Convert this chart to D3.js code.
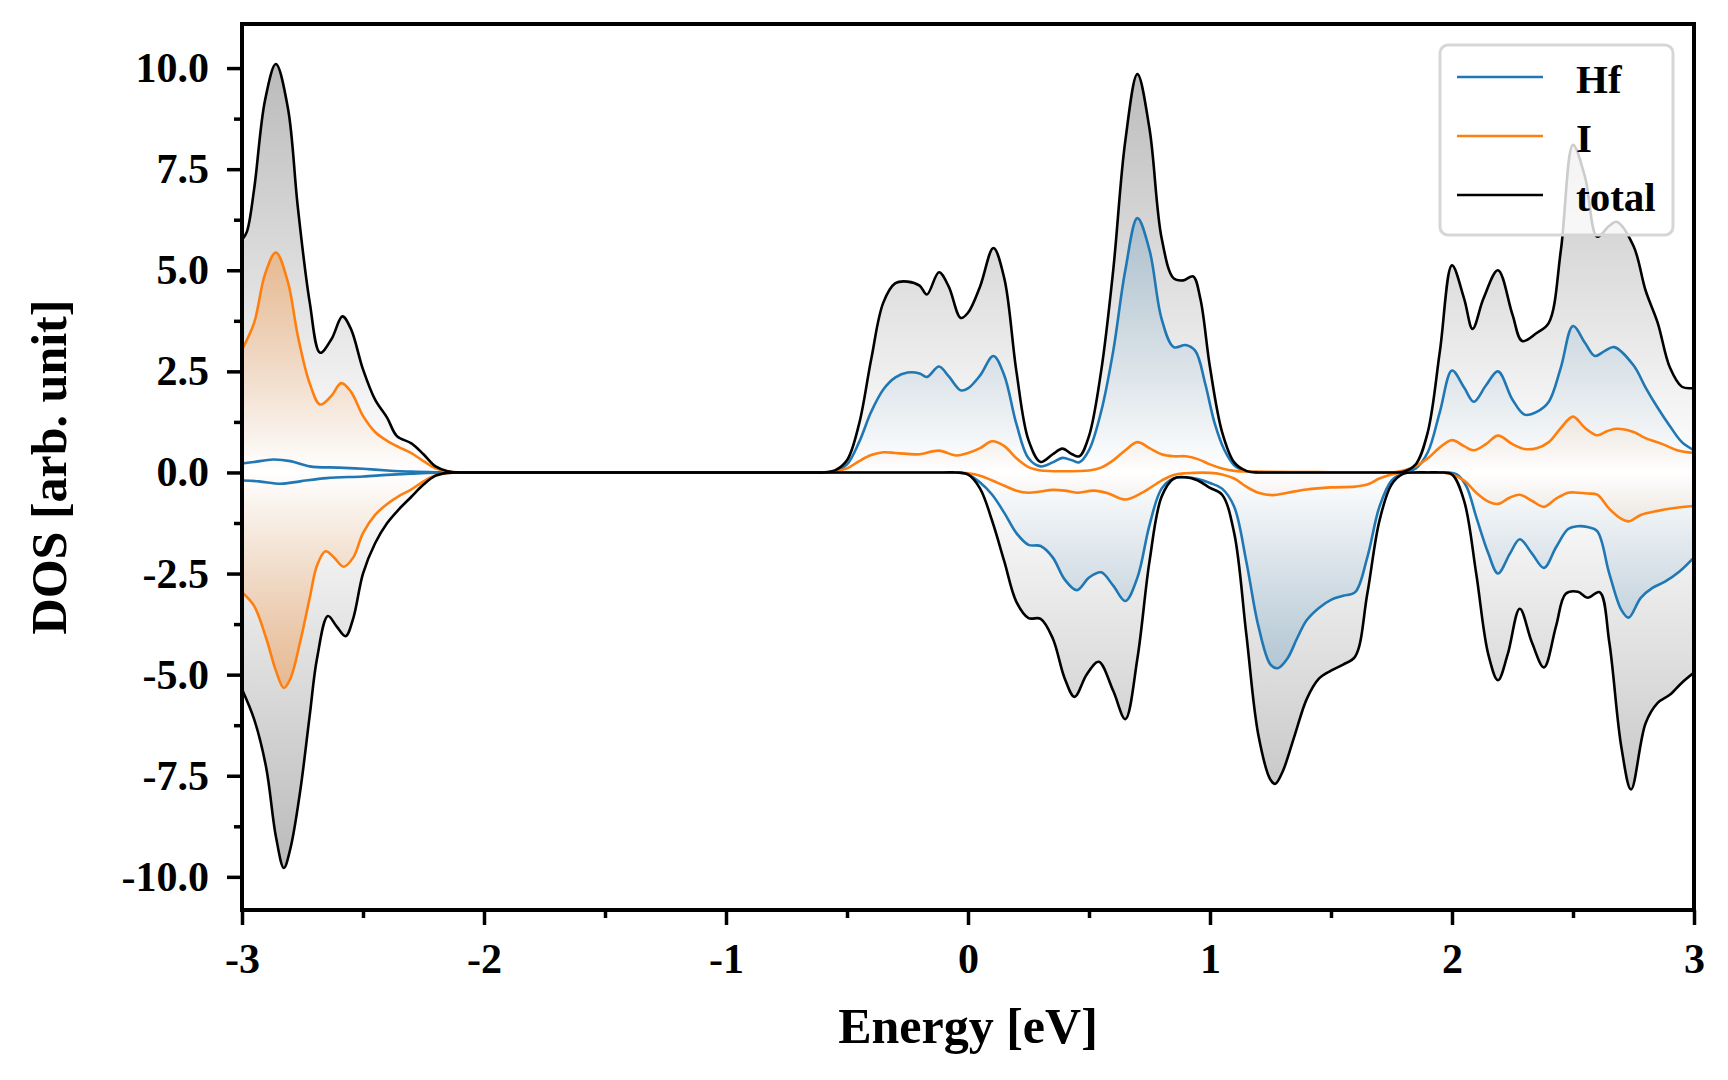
<!DOCTYPE html>
<html>
<head>
<meta charset="utf-8">
<script src="https://cdn.jsdelivr.net/npm/d3@7"></script>
<style>
  body { margin: 0; background: #fff; }
  text { font-family: "Liberation Serif", "Times New Roman", serif; font-weight: bold; }
</style>
</head>
<body>
<svg id="chart" width="1728" height="1080"></svg>
<script>
// energy [eV], DOS (up = spin up, down = spin down)
var totalUp = [[-3.0,5.75],[-2.98,5.95],[-2.95,7.0],[-2.905,9.2],[-2.86,10.1],[-2.81,9.0],[-2.77,6.6],[-2.72,4.2],[-2.677,2.96],[-2.63,3.3],[-2.585,3.86],[-2.55,3.55],[-2.5,2.55],[-2.45,1.8],[-2.4,1.35],[-2.36,0.9],[-2.3,0.72],[-2.25,0.45],[-2.2,0.15],[-2.15,0.03],[-2.1,0],[-2.05,0],
  [-0.65,0],[-0.6,0],[-0.55,0.05],[-0.5,0.3],[-0.45,1.2],[-0.4,2.8],[-0.35,4.2],[-0.3,4.68],[-0.25,4.72],[-0.2,4.62],[-0.17,4.4],[-0.12,4.95],[-0.08,4.6],[-0.03,3.82],[0.0,3.95],[0.05,4.6],[0.105,5.55],[0.15,4.8],[0.2,2.5],[0.25,0.8],[0.3,0.26],[0.35,0.45],[0.39,0.59],[0.43,0.45],[0.46,0.4],[0.5,0.9],[0.55,2.5],[0.6,5.0],[0.65,8.2],[0.7,9.85],[0.75,8.5],[0.8,5.8],[0.85,4.8],[0.89,4.75],[0.93,4.85],[0.96,4.3],[1.0,2.6],[1.05,1.0],[1.1,0.25],[1.15,0.04],[1.2,0],[1.25,0],
  [1.7,0],[1.75,0],[1.8,0.02],[1.85,0.2],[1.9,1.0],[1.95,3.0],[2.0,5.12],[2.05,4.3],[2.085,3.55],[2.13,4.3],[2.19,5.0],[2.25,3.9],[2.29,3.25],[2.35,3.45],[2.4,3.7],[2.45,5.5],[2.5,8.1],[2.55,7.3],[2.6,5.83],[2.65,6.1],[2.68,6.2],[2.75,5.6],[2.8,4.5],[2.85,3.7],[2.9,2.6],[2.95,2.12],[3.0,2.09]];
var totalDown = [[-3.0,-5.36],[-2.95,-6.1],[-2.9,-7.3],[-2.86,-9.0],[-2.827,-9.78],[-2.8,-9.3],[-2.76,-7.9],[-2.72,-6.0],[-2.69,-4.6],[-2.645,-3.55],[-2.61,-3.8],[-2.572,-4.05],[-2.54,-3.6],[-2.5,-2.5],[-2.45,-1.75],[-2.4,-1.25],[-2.35,-0.9],[-2.3,-0.6],[-2.25,-0.3],[-2.2,-0.08],[-2.15,-0.01],[-2.1,0],[-2.05,0],
  [-0.1,0],[-0.05,0],[0.0,-0.05],[0.05,-0.4],[0.1,-1.2],[0.15,-2.2],[0.2,-3.2],[0.25,-3.6],[0.3,-3.62],[0.35,-4.1],[0.4,-5.1],[0.44,-5.55],[0.49,-5.0],[0.54,-4.68],[0.6,-5.4],[0.65,-6.1],[0.7,-4.6],[0.75,-2.2],[0.8,-0.6],[0.85,-0.15],[0.9,-0.12],[0.95,-0.2],[1.0,-0.38],[1.05,-0.55],[1.1,-1.5],[1.15,-4.0],[1.2,-6.5],[1.25,-7.6],[1.27,-7.7],[1.3,-7.4],[1.35,-6.5],[1.4,-5.6],[1.45,-5.1],[1.5,-4.9],[1.55,-4.75],[1.6,-4.55],[1.65,-3.0],[1.7,-1.2],[1.75,-0.3],[1.8,-0.03],[1.85,0],
  [1.9,0],[1.95,0],[2.0,-0.05],[2.05,-0.7],[2.1,-2.5],[2.15,-4.5],[2.19,-5.14],[2.23,-4.5],[2.28,-3.37],[2.33,-4.2],[2.38,-4.82],[2.43,-3.8],[2.47,-3.0],[2.52,-2.95],[2.56,-3.1],[2.61,-2.96],[2.65,-4.2],[2.7,-6.8],[2.74,-7.84],[2.8,-6.2],[2.85,-5.7],[2.9,-5.5],[2.95,-5.2],[3.0,-4.95]];

var hfUp = [[-3.0,0.22],[-2.95,0.26],[-2.87,0.32],[-2.8,0.28],[-2.72,0.15],[-2.6,0.12],[-2.5,0.09],[-2.4,0.05],[-2.3,0.02],[-2.2,0.005],[-2.1,0],[-2.05,0],
  [-0.65,0],[-0.6,0],[-0.55,0.03],[-0.5,0.2],[-0.45,0.75],[-0.4,1.5],[-0.35,2.05],[-0.3,2.35],[-0.25,2.47],[-0.2,2.45],[-0.17,2.36],[-0.12,2.62],[-0.08,2.38],[-0.03,2.03],[0.0,2.08],[0.05,2.4],[0.105,2.88],[0.15,2.4],[0.2,1.2],[0.25,0.35],[0.3,0.15],[0.35,0.25],[0.39,0.36],[0.43,0.3],[0.46,0.25],[0.5,0.55],[0.55,1.5],[0.6,3.0],[0.65,5.0],[0.7,6.29],[0.75,5.5],[0.8,3.8],[0.85,3.1],[0.9,3.15],[0.94,3.0],[0.98,2.2],[1.02,1.2],[1.06,0.55],[1.1,0.18],[1.15,0.03],[1.2,0],[1.25,0],
  [1.75,0],[1.8,0],[1.85,0.1],[1.9,0.5],[1.95,1.5],[2.0,2.52],[2.05,2.1],[2.09,1.75],[2.14,2.15],[2.19,2.5],[2.25,1.8],[2.3,1.43],[2.35,1.5],[2.4,1.75],[2.45,2.6],[2.5,3.62],[2.55,3.2],[2.59,2.88],[2.63,3.0],[2.67,3.1],[2.75,2.65],[2.8,2.1],[2.85,1.6],[2.9,1.15],[2.95,0.75],[3.0,0.55]];
var hfDown = [[-3.0,-0.2],[-2.93,-0.22],[-2.84,-0.28],[-2.76,-0.22],[-2.65,-0.14],[-2.5,-0.1],[-2.4,-0.06],[-2.3,-0.03],[-2.2,-0.005],[-2.1,0],[-2.05,0],
  [-0.1,0],[-0.05,0],[0.0,-0.05],[0.05,-0.25],[0.1,-0.55],[0.15,-1.0],[0.2,-1.5],[0.25,-1.79],[0.3,-1.82],[0.35,-2.1],[0.4,-2.65],[0.45,-2.91],[0.5,-2.6],[0.55,-2.47],[0.6,-2.8],[0.65,-3.18],[0.7,-2.6],[0.75,-1.3],[0.8,-0.4],[0.85,-0.15],[0.9,-0.12],[0.95,-0.16],[1.0,-0.26],[1.05,-0.4],[1.1,-0.85],[1.15,-2.2],[1.2,-3.8],[1.25,-4.75],[1.28,-4.84],[1.32,-4.6],[1.36,-4.1],[1.4,-3.65],[1.45,-3.35],[1.5,-3.15],[1.55,-3.05],[1.6,-2.96],[1.65,-2.1],[1.7,-0.85],[1.75,-0.2],[1.8,-0.02],[1.85,0],
  [1.9,0],[1.94,0],[1.98,0],[2.02,-0.05],[2.06,-0.35],[2.1,-1.1],[2.15,-2.0],[2.19,-2.5],[2.24,-2.0],[2.28,-1.65],[2.33,-2.0],[2.38,-2.36],[2.43,-1.85],[2.48,-1.4],[2.52,-1.33],[2.56,-1.35],[2.6,-1.45],[2.65,-2.5],[2.7,-3.4],[2.73,-3.59],[2.78,-3.1],[2.83,-2.85],[2.88,-2.7],[2.94,-2.45],[3.0,-2.1]];

var iUp = [[-3.0,3.04],[-2.95,3.7],[-2.905,4.9],[-2.86,5.44],[-2.81,4.7],[-2.77,3.4],[-2.72,2.2],[-2.677,1.68],[-2.63,1.9],[-2.59,2.21],[-2.55,2.0],[-2.5,1.4],[-2.45,1.0],[-2.4,0.78],[-2.35,0.62],[-2.3,0.48],[-2.25,0.28],[-2.2,0.1],[-2.15,0.02],[-2.1,0],[-2.05,0],
  [-0.65,0],[-0.6,0],[-0.55,0.02],[-0.5,0.1],[-0.45,0.28],[-0.4,0.43],[-0.35,0.5],[-0.3,0.48],[-0.25,0.46],[-0.2,0.45],[-0.12,0.54],[-0.05,0.42],[0.0,0.48],[0.05,0.6],[0.1,0.77],[0.15,0.65],[0.2,0.35],[0.25,0.13],[0.3,0.05],[0.4,0.03],[0.5,0.05],[0.55,0.12],[0.6,0.3],[0.65,0.55],[0.7,0.75],[0.75,0.6],[0.8,0.45],[0.85,0.4],[0.9,0.4],[0.95,0.33],[1.0,0.2],[1.05,0.1],[1.1,0.04],[1.2,0.02],[1.4,0.01],[1.5,0.005],
  [1.7,0],[1.75,0],[1.8,0.05],[1.85,0.15],[1.9,0.35],[1.95,0.62],[2.0,0.8],[2.05,0.65],[2.09,0.55],[2.14,0.7],[2.19,0.91],[2.25,0.7],[2.3,0.58],[2.35,0.6],[2.4,0.75],[2.45,1.1],[2.5,1.38],[2.55,1.1],[2.6,0.92],[2.64,1.02],[2.68,1.08],[2.75,1.0],[2.8,0.85],[2.87,0.7],[2.93,0.55],[3.0,0.48]];
var iDown = [[-3.0,-2.96],[-2.95,-3.3],[-2.9,-4.1],[-2.86,-4.9],[-2.827,-5.33],[-2.8,-5.1],[-2.76,-4.2],[-2.72,-3.1],[-2.69,-2.3],[-2.655,-1.95],[-2.62,-2.1],[-2.58,-2.33],[-2.54,-2.1],[-2.5,-1.5],[-2.45,-1.05],[-2.4,-0.78],[-2.35,-0.58],[-2.3,-0.42],[-2.25,-0.22],[-2.2,-0.07],[-2.15,-0.01],[-2.1,0],[-2.05,0],
  [-0.1,0],[-0.05,0],[0.0,-0.02],[0.05,-0.08],[0.1,-0.2],[0.15,-0.33],[0.2,-0.45],[0.25,-0.5],[0.3,-0.47],[0.35,-0.43],[0.4,-0.45],[0.45,-0.5],[0.52,-0.45],[0.58,-0.52],[0.65,-0.67],[0.72,-0.5],[0.8,-0.2],[0.85,-0.06],[0.9,-0.02],[1.0,-0.01],[1.05,-0.05],[1.1,-0.15],[1.15,-0.35],[1.2,-0.5],[1.26,-0.56],[1.32,-0.5],[1.4,-0.42],[1.5,-0.37],[1.6,-0.35],[1.65,-0.3],[1.7,-0.15],[1.75,-0.05],[1.8,0],
  [1.85,0],[1.9,0],[1.95,0],[2.0,-0.05],[2.05,-0.2],[2.1,-0.5],[2.15,-0.72],[2.19,-0.78],[2.24,-0.62],[2.28,-0.55],[2.33,-0.7],[2.38,-0.85],[2.43,-0.65],[2.48,-0.5],[2.52,-0.5],[2.56,-0.52],[2.6,-0.55],[2.65,-0.9],[2.7,-1.15],[2.73,-1.21],[2.78,-1.05],[2.85,-0.95],[2.92,-0.88],[3.0,-0.83]];

var seriesNames = ["Hf", "I", "total"];
var seriesColors = ["#1f77b4", "#ff7f0e", "#000000"];
var xTicks = [-3, -2, -1, 0, 1, 2, 3];
var xMinor = [-2.5, -1.5, -0.5, 0.5, 1.5, 2.5];
var yTicks = [-10, -7.5, -5, -2.5, 0, 2.5, 5, 7.5, 10];
var yMinor = [-8.75, -6.25, -3.75, -1.25, 1.25, 3.75, 6.25, 8.75];

var plotLeft = 242, plotRight = 1694, plotTop = 24, plotBottom = 910;

var x = d3.scaleLinear().domain([-3, 3]).range([plotLeft, plotRight]);
var y = d3.scaleLinear().domain([-10.82, 11.09]).range([plotBottom, plotTop]);

var svg = d3.select("#chart");
var defs = svg.append("defs");
defs.append("clipPath").attr("id", "plotclip")
  .append("rect").attr("x", plotLeft).attr("y", plotTop)
  .attr("width", plotRight - plotLeft).attr("height", plotBottom - plotTop);

var series = [
  { name: seriesNames[0], color: seriesColors[0], up: hfUp, down: hfDown, alpha: 0.22 },
  { name: seriesNames[1], color: seriesColors[1], up: iUp, down: iDown, alpha: 0.36 },
  { name: seriesNames[2], color: seriesColors[2], up: totalUp, down: totalDown, alpha: 0.27 }
];

// vertical gradients: clear at zero, darker toward each series' extreme
series.forEach(function (s, i) {
  var vmax = d3.max(s.up, function (d) { return d[1]; });
  var vmin = d3.min(s.down, function (d) { return d[1]; });
  var z = (y(0) - y(vmax)) / (y(vmin) - y(vmax));
  var g = defs.append("linearGradient").attr("id", "grad" + i)
    .attr("gradientUnits", "userSpaceOnUse")
    .attr("x1", 0).attr("x2", 0).attr("y1", y(vmax)).attr("y2", y(vmin));
  [[0, s.alpha], [z, 0], [1, s.alpha]].forEach(function (st) {
    g.append("stop").attr("offset", st[0])
      .attr("stop-color", s.color).attr("stop-opacity", st[1]);
  });
});

var curve = d3.curveCatmullRom.alpha(0.5);
var area = d3.area()
  .x(function (d) { return x(d[0]); })
  .y0(y(0))
  .y1(function (d) { return y(d[1]); })
  .curve(curve);
var line = d3.line()
  .x(function (d) { return x(d[0]); })
  .y(function (d) { return y(d[1]); })
  .curve(curve);

var plot = svg.append("g").attr("clip-path", "url(#plotclip)");

// fills: total first, then Hf, then I
[2, 0, 1].forEach(function (i) {
  var s = series[i];
  [s.up, s.down].forEach(function (arr) {
    plot.append("path").datum(arr).attr("d", area)
      .attr("fill", "url(#grad" + i + ")").attr("stroke", "none");
  });
});

series.forEach(function (s) {
  [s.up, s.down].forEach(function (arr) {
    plot.append("path").datum(arr).attr("d", line)
      .attr("fill", "none").attr("stroke", s.color)
      .attr("stroke-width", 2.6).attr("stroke-linejoin", "round");
  });
});

// axes
var yAxis = svg.append("g").attr("transform", "translate(" + plotLeft + ",0)")
  .call(d3.axisLeft(y).tickValues(yTicks).tickSize(15).tickPadding(18)
    .tickFormat(function (d) { return d.toFixed(1); }));
var yAxisMinor = svg.append("g").attr("transform", "translate(" + plotLeft + ",0)")
  .call(d3.axisLeft(y).tickValues(yMinor).tickSize(8).tickFormat(""));
var xAxis = svg.append("g").attr("transform", "translate(0," + plotBottom + ")")
  .call(d3.axisBottom(x).tickValues(xTicks).tickSize(15).tickPadding(18)
    .tickFormat(function (d) { return String(d); }));
var xAxisMinor = svg.append("g").attr("transform", "translate(0," + plotBottom + ")")
  .call(d3.axisBottom(x).tickValues(xMinor).tickSize(8).tickFormat(""));

[yAxis, yAxisMinor, xAxis, xAxisMinor].forEach(function (a) {
  a.select(".domain").remove();
  a.selectAll(".tick line").attr("stroke", "#000").attr("stroke-width", 3.5);
  a.selectAll(".tick text").attr("font-size", 42).attr("fill", "#000")
    .style("font-family", "'Liberation Serif', 'Times New Roman', serif").style("font-weight", "bold");
});

svg.append("rect").attr("x", plotLeft).attr("y", plotTop)
  .attr("width", plotRight - plotLeft).attr("height", plotBottom - plotTop)
  .attr("fill", "none").attr("stroke", "#000").attr("stroke-width", 4);

svg.append("text").attr("x", (plotLeft + plotRight) / 2).attr("y", 1043)
  .attr("text-anchor", "middle").attr("font-size", 50).text("Energy [eV]");
svg.append("text").attr("transform", "translate(66," + ((plotTop + plotBottom) / 2) + ") rotate(-90)")
  .attr("text-anchor", "middle").attr("font-size", 50).text("DOS [arb. unit]");

// legend
var legend = svg.append("g");
legend.append("rect").attr("x", 1440).attr("y", 45).attr("width", 233).attr("height", 190)
  .attr("rx", 8).attr("fill", "#fff").attr("fill-opacity", 0.8)
  .attr("stroke", "#d6d6d6").attr("stroke-width", 3);
series.forEach(function (s, i) {
  var ly = 77 + i * 59;
  legend.append("line").attr("x1", 1457).attr("x2", 1543).attr("y1", ly).attr("y2", ly)
    .attr("stroke", s.color).attr("stroke-width", 2.6);
  legend.append("text").attr("x", 1576).attr("y", ly + 16)
    .attr("font-size", 41).text(s.name);
});
</script>
</body>
</html>
